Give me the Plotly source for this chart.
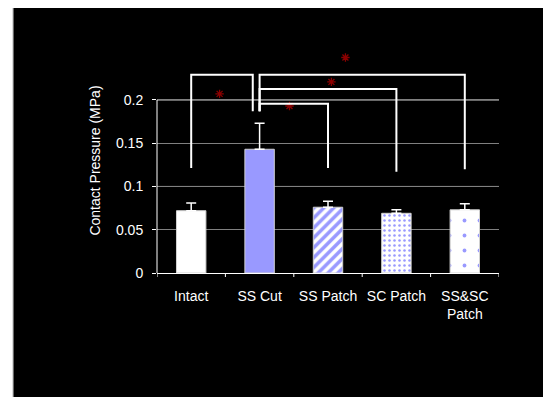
import plotly.graph_objects as go

# ---- data ----
categories = ["Intact", "SS Cut", "SS Patch", "SC Patch", "SS&SC<br>Patch"]
pressure = [0.072, 0.143, 0.076, 0.069, 0.073]
error_plus = [0.009, 0.030, 0.007, 0.004, 0.007]
y_tickvals = [0, 0.05, 0.1, 0.15, 0.2]
y_ticktext = ["0", "0.05", "0.1", "0.15", "0.2"]

# significance brackets: (from_idx, to_idx, bracket height, from leg bottom, to leg bottom)
brackets = [
    (0, 0.9, 0.229, 0.1214, 0.187),
    (1, 4, 0.229, 0.187, 0.120),
    (1, 3, 0.2127, 0.187, 0.117),
    (1, 2, 0.1957, 0.187, 0.1214),
]
star_x = [0.415, 2.255, 2.05, 1.437]
star_y = [0.207, 0.249, 0.2208, 0.193]

FONT = "Liberation Sans, Arial, sans-serif"
BLUE = "#9999FF"

# page body margin of 8px shifts everything; plot area in figure px:
L, T, W, H = 149, 40, 342.5, 225

fig = go.Figure()

fill_colors = ["#FFFFFF", BLUE, "#FFFFFF", "#FFFFFF", "#FFFFFF"]
pat_shapes = ["", "", "/", ".", "."]
pat_sizes = [8, 8, 7, 5, 15]
pat_solid = [0.3, 0.3, 0.5, 0.2, 0.05]

for i in range(len(categories)):
    pattern = None
    if pat_shapes[i]:
        pattern = dict(shape=pat_shapes[i], fgcolor=BLUE, bgcolor="#FFFFFF",
                       size=pat_sizes[i], solidity=pat_solid[i],
                       fillmode="replace", fgopacity=1)
    fig.add_trace(go.Bar(
        x=[i], y=[pressure[i]],
        width=0.43,
        marker=dict(color=fill_colors[i],
                    line=dict(color="#D0D0D0", width=1),
                    pattern=pattern),
        error_y=dict(type="data", symmetric=False, array=[error_plus[i]],
                     arrayminus=[0], color="#FFFFFF",
                     thickness=1.5, width=5),
        showlegend=False,
    ))

fig.add_trace(go.Scatter(
    x=star_x, y=star_y, mode="markers",
    marker=dict(symbol="asterisk-open", size=7, color="#8B0000",
                line=dict(color="#8B0000", width=1.3)),
    showlegend=False, cliponaxis=False,
))

shapes = []
# background panel
shapes.append(dict(type="rect", xref="paper", yref="paper",
                   x0=(5 - L) / W, x1=(560 - L) / W,
                   y0=(T + H - 420) / H, y1=(T + H + 2) / H,
                   fillcolor="#000000", line=dict(color="#808080", width=1),
                   layer="below"))
# white gridlines at 0.1, 0.2
for gv in [0.1, 0.2]:
    shapes.append(dict(type="line", xref="paper", yref="y", x0=0, x1=1,
                       y0=gv, y1=gv, line=dict(color="#FFFFFF", width=1),
                       layer="below"))
# y axis line
shapes.append(dict(type="line", xref="paper", yref="y", x0=0, x1=0,
                   y0=0, y1=0.2, line=dict(color="#FFFFFF", width=1)))
for (a, b, h, la, lb) in brackets:
    shapes.append(dict(type="path", xref="x", yref="y",
                       path=f"M {a},{la} L {a},{h} L {b},{h} L {b},{lb}",
                       line=dict(color="#FFFFFF", width=2)))
fig.update_layout(shapes=shapes)

fig.update_layout(
    width=551, height=397,
    barmode="overlay",
    margin=dict(l=L, r=551 - L - W, t=T, b=397 - T - H),
    paper_bgcolor="#FFFFFF", plot_bgcolor="rgba(0,0,0,0)",
    font=dict(family=FONT, size=14, color="#FFFFFF"),
    xaxis=dict(
        tickvals=list(range(len(categories))), ticktext=categories,
        range=[-0.5, 4.5], showgrid=False, zeroline=False,
        showline=True, linecolor="#FFFFFF", linewidth=1,
        ticks="", tickfont=dict(size=14, color="#FFFFFF"),
        ticklabelstandoff=10,
    ),
    yaxis=dict(
        range=[0, 0.26], tickvals=y_tickvals, ticktext=y_ticktext,
        showgrid=True, gridcolor="#808080", gridwidth=1, zeroline=False,
        showline=False, ticks="outside", ticklen=4, tickcolor="#FFFFFF",
        tickfont=dict(size=14, color="#FFFFFF"),
        ticklabelstandoff=6,
        title=dict(text="Contact Pressure (MPa)", font=dict(size=14, color="#FFFFFF"),
                   standoff=12),
    ),
)
# category boundary ticks on x axis
for bx in [-0.5, 0.5, 1.5, 2.5, 3.5, 4.5]:
    fig.add_shape(type="line", xref="x", yref="paper", x0=bx, x1=bx,
                  y0=0, y1=-4 / H, line=dict(color="#FFFFFF", width=1))

fig.write_html("out.html")
